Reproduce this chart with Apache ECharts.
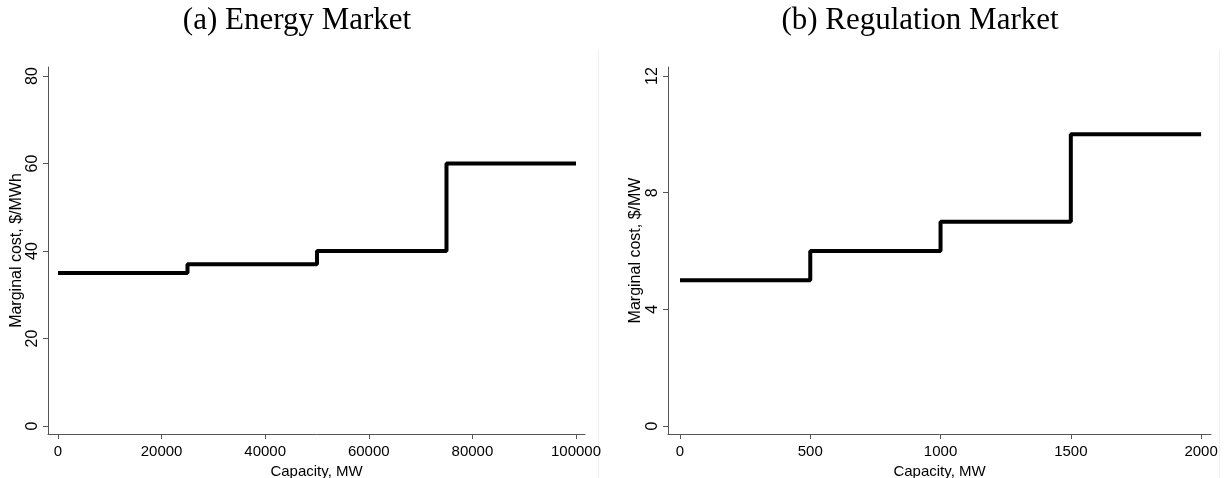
<!DOCTYPE html>
<html>
<head>
<meta charset="utf-8">
<script src="https://cdn.jsdelivr.net/npm/echarts@6/dist/echarts.min.js"></script>
<style>html,body{margin:0;padding:0;background:#fff}#c{width:1225px;height:478px}</style>
</head>
<body>
<div id="c"></div>
<script>
// Panel (a) Energy Market
const energyCapacity = [0, 25000, 25000, 50000, 50000, 75000, 75000, 100000];
const energyCost = [35, 35, 37, 37, 40, 40, 60, 60];
const energyXTicks = [0, 20000, 40000, 60000, 80000, 100000];
const energyYTicks = [0, 20, 40, 60, 80];
// Panel (b) Regulation Market
const regCapacity = [0, 500, 500, 1000, 1000, 1500, 1500, 2000];
const regCost = [5, 5, 6, 6, 7, 7, 10, 10];
const regXTicks = [0, 500, 1000, 1500, 2000];
const regYTicks = [0, 4, 8, 12];

const titles = ['(a) Energy Market', '(b) Regulation Market'];
const xNames = ['Capacity, MW', 'Capacity, MW'];
const yNames = ['Marginal cost, $/MWh', 'Marginal cost, $/MW'];

const axisColor = '#555';
const sans = 'Liberation Sans, Arial, sans-serif';

function xAxis(idx, min, max, ticks) {
  return {
    type: 'value', gridIndex: idx, min: min, max: max,
    name: xNames[idx], nameLocation: 'middle', nameGap: 25,
    nameTextStyle: {fontFamily: sans, fontSize: 15, color: '#000'},
    axisLine: {show: true, onZero: false, lineStyle: {color: axisColor, width: 1}},
    axisTick: {show: true, length: 5, customValues: ticks, lineStyle: {color: axisColor}},
    axisLabel: {customValues: ticks, fontFamily: sans, fontSize: 15, color: '#000', margin: 10,
                formatter: v => String(v)},
    splitLine: {show: false}
  };
}
function yAxis(idx, min, max, ticks, gap) {
  return {
    type: 'value', gridIndex: idx, min: min, max: max,
    name: yNames[idx], nameLocation: 'middle', nameGap: gap,
    nameTextStyle: {fontFamily: sans, fontSize: 16, color: '#000'},
    axisLine: {show: true, onZero: false, lineStyle: {color: axisColor, width: 1}},
    axisTick: {show: true, length: 5, customValues: ticks, lineStyle: {color: axisColor}},
    axisLabel: {customValues: ticks, rotate: 90, fontFamily: sans, fontSize: 16, color: '#000', margin: 7,
                formatter: v => String(v)},
    splitLine: {show: false}
  };
}

const chart = echarts.init(document.getElementById('c'), null, {renderer: 'canvas'});
chart.setOption({
  animation: false,
  backgroundColor: '#fff',
  title: [
    {text: titles[0], left: 292, top: 0, textAlign: 'center',
     textStyle: {fontFamily: 'Liberation Serif, serif', fontSize: 31, fontWeight: 'normal', color: '#000'}},
    {text: titles[1], left: 915, top: 0, textAlign: 'center',
     textStyle: {fontFamily: 'Liberation Serif, serif', fontSize: 31, fontWeight: 'normal', color: '#000'}}
  ],
  grid: [
    {left: 48, right: 640, top: 67, bottom: 44, containLabel: false, outerBoundsMode: 'none'},
    {left: 668, right: 14, top: 67, bottom: 44, containLabel: false, outerBoundsMode: 'none'}
  ],
  xAxis: [
    xAxis(0, -1930, 101740, energyXTicks),
    xAxis(1, -46, 2038, regXTicks)
  ],
  yAxis: [
    yAxis(0, -1.83, 82.06, energyYTicks, 19),
    yAxis(1, -0.274, 12.31, regYTicks, 24)
  ],
  series: [
    {type: 'line', xAxisIndex: 0, yAxisIndex: 0, data: energyCapacity.map((x, i) => [x, energyCost[i]]),
     showSymbol: false, lineStyle: {color: '#000', width: 4}, silent: true},
    {type: 'line', xAxisIndex: 1, yAxisIndex: 1, data: regCapacity.map((x, i) => [x, regCost[i]]),
     showSymbol: false, lineStyle: {color: '#000', width: 4}, silent: true}
  ],
  graphic: [
    {type: 'line', shape: {x1: 598.5, y1: 50, x2: 598.5, y2: 478}, style: {stroke: '#eeeeee', lineWidth: 1}},
    {type: 'line', shape: {x1: 1219.5, y1: 50, x2: 1219.5, y2: 478}, style: {stroke: '#eeeeee', lineWidth: 1}}
  ]
});
</script>
</body>
</html>
